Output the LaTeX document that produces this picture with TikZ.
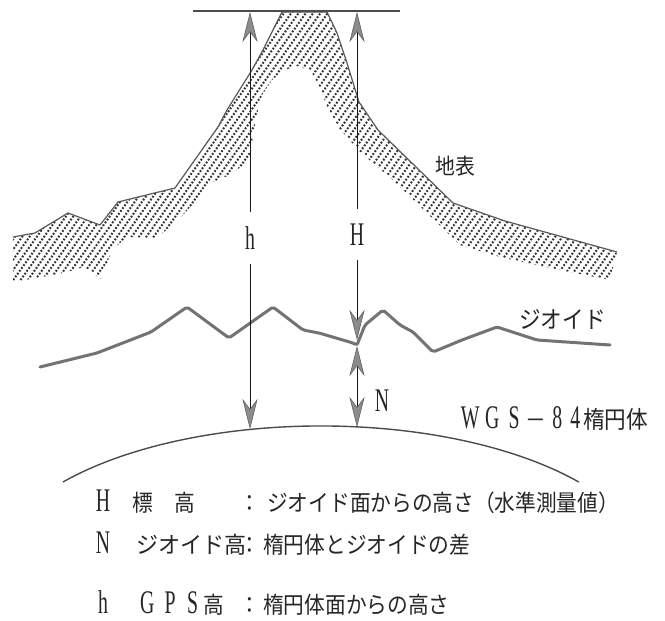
\documentclass[tikz,border=0pt]{standalone}
\usepackage{fontspec}
\usepackage{graphicx}
\usetikzlibrary{arrows.meta}
\newfontfamily\jpfont[FakeStretch=0.9]{Noto Sans CJK JP}
\newfontfamily\jpwide[FakeStretch=0.96]{Noto Sans CJK JP}
\newfontfamily\latfont{Liberation Serif}
% tall, narrow serif letters
\newcommand\narrowlat[1]{{\latfont\fontsize{33}{33}\selectfont\scalebox{0.6}[1]{#1}}}
\tikzset{
  gtip/.tip={Stealth[length=30pt,width=15pt,inset=10pt,line width=0.5pt,fill=black!45,color=black!65]},
  shaft/.style={line width=0.9pt, draw=black!90},
  jp/.style={font=\jpfont\fontsize{23}{23}\selectfont, inner sep=0pt, text=black!85},
  vlabel/.style={inner sep=0pt, text=black!85, minimum width=14pt},
  hatchline/.style={draw=black!80, line width=2pt, dash pattern=on 1.8pt off 1.7pt},
  surface/.style={draw=black!65, line width=1.2pt, line join=round},
  geoidline/.style={draw=black!55, line width=3pt, line join=round, line cap=round, rounded corners=2pt},
  ellipsoid/.style={draw=black!70, line width=1.4pt},
  topline/.style={draw=black!70, line width=1.6pt},
}
\begin{document}
\begin{tikzpicture}[x=1pt,y=-1pt]
\useasboundingbox (0,0) rectangle (665,621);
\fill[white] (0,0) rectangle (665,621);

% hatched crust band of the mountain
\begin{scope}
  \clip (13,237) -- (35,233) -- (68,213) -- (100,225) -- (118,202) -- (175,188)
     -- (218,127) -- (227,110) -- (252,70) -- (263,50) -- (282,12) -- (327,12)
     -- (337,33) -- (347,63) -- (359,102) -- (378,130) -- (416,167) -- (453,203)
     -- (505,221) -- (617,252) -- (610,280) -- (560,270) -- (500,257) -- (460,245)
     -- (427,213) -- (393,180) -- (360,152) -- (339,128) -- (327,106) -- (319,86)
     -- (311,71) -- (298,66) -- (284,70) -- (272,80) -- (262,95) -- (258,110)
     -- (253,135) -- (250,160) -- (230,175) -- (213,182) -- (197,200) -- (180,218)
     -- (157,238) -- (127,237) -- (112,250) -- (101,279) -- (84,267) -- (63,273)
     -- (42,277) -- (13,282) -- cycle;
  \foreach \k in {-220,-212.7,...,640}
    \draw[hatchline] (\k,300) -- ++(214,-300);
\end{scope}

% ground surface
\draw[surface] (13,237) -- (35,233) -- (68,213) -- (100,225) -- (118,202) -- (175,188)
     -- (218,127) -- (227,110) -- (252,70) -- (263,50) -- (282,12) -- (327,12)
     -- (337,33) -- (347,63) -- (359,102) -- (378,130) -- (416,167) -- (453,203)
     -- (505,221) -- (617,252);

% geoid
\draw[geoidline] (40,367) -- (97,353) -- (151,332) -- (187,307) -- (229,338)
     -- (273,307) -- (303,330) -- (319,333) -- (353,343) -- (357,345) -- (365,325)
     -- (383,310) -- (400,325) -- (413,332) -- (433,352) -- (462,340) -- (497,327)
     -- (537,340) -- (610,345);

% WGS-84 ellipsoid
\draw[ellipsoid] (63,482) arc[start angle=218.6, end angle=321.4, x radius=330, y radius=149];

% reference level through the summit
\coordinate (topL) at (193,11);
\coordinate (topR) at (400,11);
\draw[topline] (topL) -- (topR);

% end points of the height arrows
\coordinate (hTop) at (250,12);
\coordinate (hBot) at (250,429);
\coordinate (HTop) at (357,12);
\coordinate (Hgeo) at (357,340);
\coordinate (Ngeo) at (357,346);
\coordinate (Nell) at (357,427);

\node[vlabel, minimum height=52pt] (hlab) at (250,238) {\narrowlat{h}};
\node[vlabel, minimum height=51pt] (Hlab) at (357,234.5) {\narrowlat{H}};

\draw[shaft,-gtip] (hlab) -- (hTop);
\draw[shaft,-gtip] (hlab) -- (hBot);
\draw[shaft,-gtip] (Hlab) -- (HTop);
\draw[shaft,-gtip] (Hlab) -- (Hgeo);
\draw[shaft,gtip-gtip] (Ngeo) -- (Nell);

\node[vlabel, anchor=base] (Nlab) at (382,411) {\narrowlat{N}};

% curve labels
\node[jp, font=\jpfont\fontsize{22}{22}\selectfont, anchor=base west] (surfacelab) at (435,174) {地表};
\node[jp, font=\jpfont\fontsize{24}{24}\selectfont, anchor=base west] (geoidlab) at (519,328) {ジオイド};
\node[jp, anchor=base west] (wgslab) at (459,428) {\makebox[22pt]{\narrowlat{W}}\makebox[22pt]{\narrowlat{G}}\makebox[22pt]{\narrowlat{S}}\makebox[22pt]{－}\makebox[20pt]{\narrowlat{8}}\makebox[16pt]{\narrowlat{4}}{\fontsize{24}{24}\selectfont 楕円体}};

% legend
\node[jp, anchor=base] (lgH) at (103,511) {\narrowlat{H}};
\node[jp, anchor=base west] (lgHname) at (132.5,511) {標　高};
\node[jp, anchor=base] (lgHcolon) at (250,511) {：};
\node[jp, anchor=base west] (lgHtext) at (267,511) {ジオイド面からの高さ（水準測量値）};

\node[jp, anchor=base] (lgN) at (103,553) {\narrowlat{N}};
\node[jp, font=\jpwide\fontsize{23}{23}\selectfont, anchor=base west] (lgNname) at (136,553) {ジオイド高};
\node[jp, anchor=base] (lgNcolon) at (250,553) {：};
\node[jp, anchor=base west] (lgNtext) at (263,553) {楕円体とジオイドの差};

\node[jp, anchor=base] (lgh) at (103,613) {\narrowlat{h}};
\node[jp, anchor=base west] (lghname) at (135.5,613) {\makebox[23pt]{\narrowlat{G}}\makebox[23pt]{\narrowlat{P}}\makebox[22pt]{\narrowlat{S}}高};
\node[jp, anchor=base] (lghcolon) at (250,613) {：};
\node[jp, anchor=base west] (lghtext) at (263,613) {楕円体面からの高さ};
\end{tikzpicture}
\end{document}
